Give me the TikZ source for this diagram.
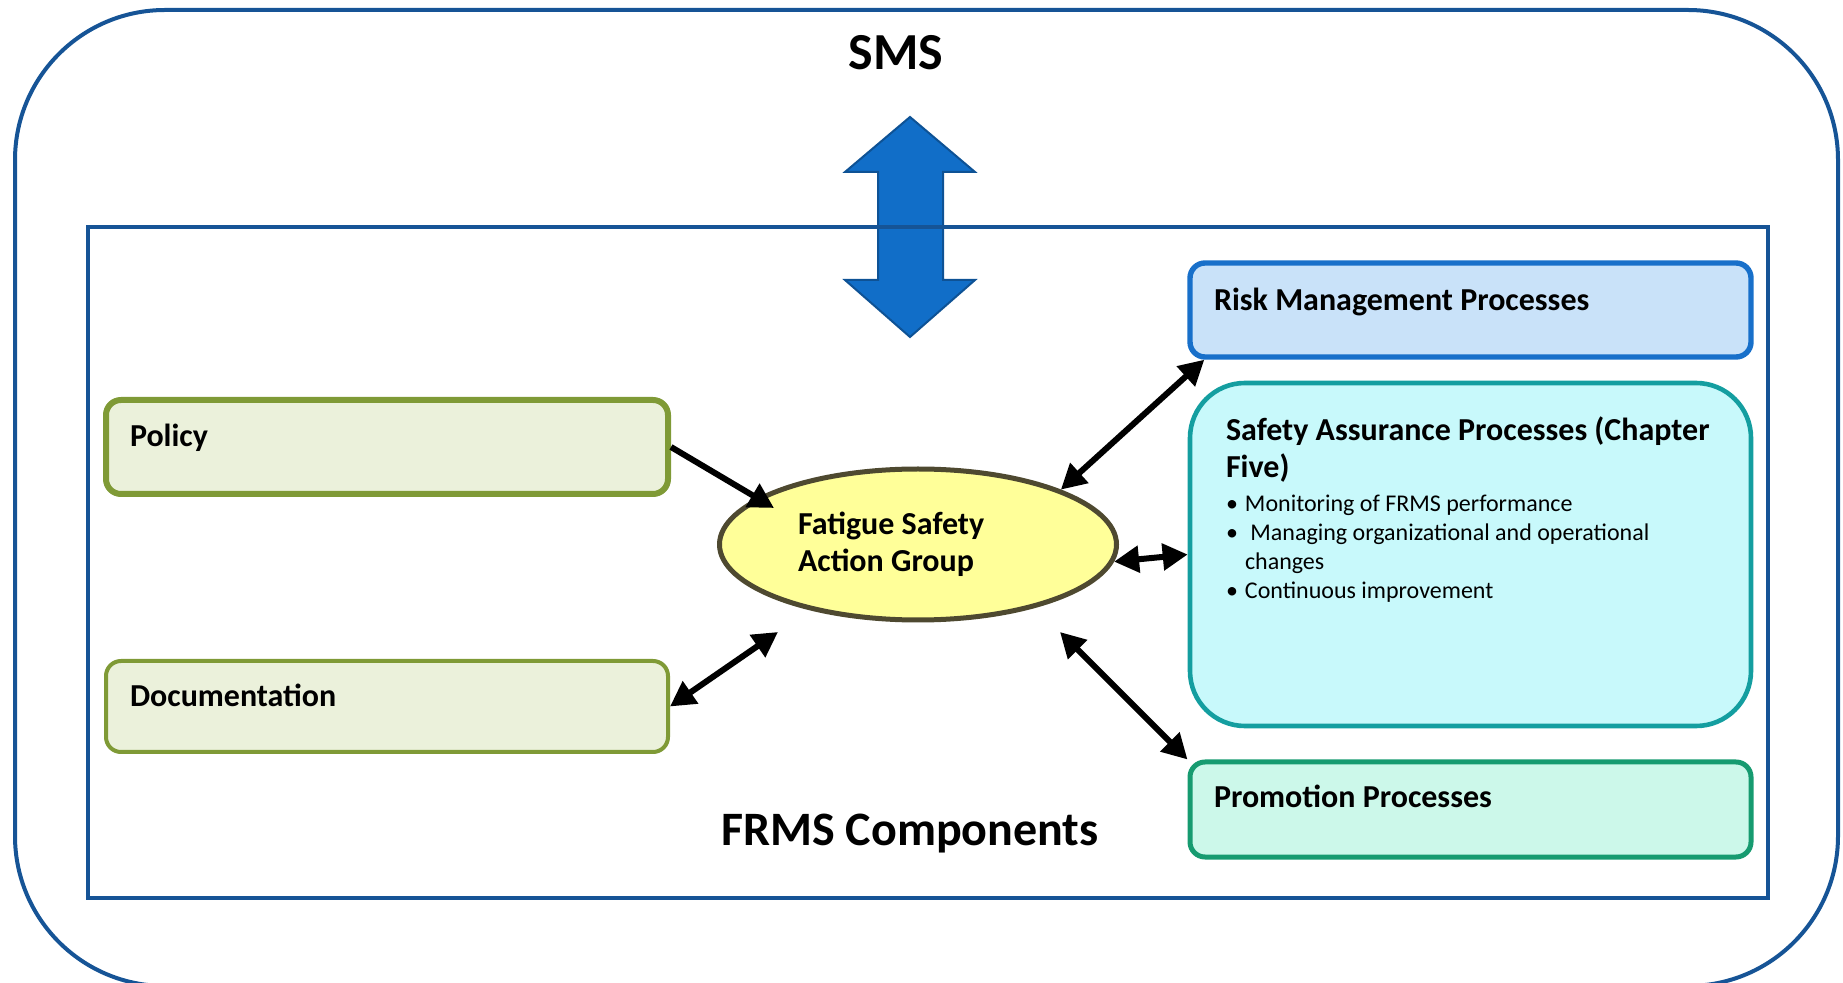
\documentclass[tikz,border=0pt]{standalone}
\usepackage{fontspec}
\setmainfont{Carlito}
\usepackage{tikz}
\usetikzlibrary{arrows.meta, shapes.geometric, calc}
\definecolor{framecol}{RGB}{22,84,150}
\definecolor{bigfill}{RGB}{17,110,200}
\definecolor{bigline}{RGB}{14,82,149}
\definecolor{riskline}{RGB}{24,112,202}
\definecolor{riskfill}{RGB}{201,226,249}
\definecolor{safeline}{RGB}{20,158,160}
\definecolor{safefill}{RGB}{200,249,251}
\definecolor{promline}{RGB}{22,155,112}
\definecolor{promfill}{RGB}{204,248,234}
\definecolor{polline}{RGB}{127,154,54}
\definecolor{polfill}{RGB}{235,241,219}
\definecolor{ellline}{RGB}{78,73,48}
\definecolor{ellfill}{RGB}{255,255,153}
\newcommand{\hd}{\fontsize{16pt}{18.5pt}\selectfont\bfseries}
\newcommand{\bd}{\fontsize{12pt}{14.5pt}\selectfont}
\newcommand{\bul}{\makebox[9.5pt][l]{\textbullet}}

\begin{document}
\begin{tikzpicture}[x=0.5pt, y=-0.5pt, line width=.8pt,
    box/.style={draw, rounded corners=7.5pt, inner xsep=12pt, inner ysep=0pt,
        text width=256.5pt, align=flush left, font=\hd},
    onearrow/.style={-{Triangle[length=12.5pt, width=13pt]}, line width=3pt},
    biarrow/.style={{Triangle[length=12.5pt, width=13pt]}-{Triangle[length=12.5pt, width=13pt]}, line width=3pt}]
            \useasboundingbox (0,0) rectangle (1843,983);
            % Rahmen.
            \draw[framecol, line width=2pt, rounded corners=75pt] (15,10) rectangle (1838,986);
            \filldraw[fill=bigfill, draw=bigline, line width=1pt]
                (910,117) -- (975,172) -- (943,172) -- (943,280) -- (975,280) -- (910,337)
                -- (845,280) -- (878,280) -- (878,172) -- (845,172) -- cycle;
            \draw[framecol, line width=1.6pt] (88,227) rectangle (1768,898);

            % Kaesten.
            \node[box, draw=riskline, fill=riskfill, line width=2.7pt, text height=23.7pt, text depth=23.3pt]
                (risk) at (1470.5,310) {Risk Management Processes};
            \node[box, rounded corners=27.5pt, draw=safeline, fill=safefill, line width=2.3pt,
                inner xsep=18pt, text width=244.5pt, text height=29pt, text depth=142.5pt, font=\bd]
                (safety) at (1470.5,554.5) {{\hd Safety Assurance Processes (Chapter\\Five)\par}
                \vspace{2.5pt}
                \bul Monitoring of FRMS performance\\
                \bul\ Managing organizational and operational\\
                \hspace*{9.5pt}changes\\
                \bul Continuous improvement\par};
            \node[box, draw=promline, fill=promfill, line width=2.5pt, text height=22.5pt, text depth=25pt]
                (promo) at (1470.5,809.5) {Promotion Processes};
            \node[box, draw=polline, fill=polfill, line width=3pt, text width=257pt, text height=23.1pt, text depth=23.9pt]
                (policy) at (387,447) {Policy};
            \node[box, draw=polline, fill=polfill, line width=2pt, text width=257pt, text height=22.6pt, text depth=22.9pt]
                (doc) at (387,706.5) {Documentation};
            \node[ellipse, draw=ellline, fill=ellfill, line width=2.5pt, minimum width=198.5pt, minimum height=75.5pt,
                inner sep=0pt, text width=120pt, align=flush left, font=\hd]
                (fsag) at (918,544.5) {Fatigue Safety\\Action Group};

            % Beschriftung.
            \node[font=\fontsize{26pt}{31pt}\selectfont\bfseries] (sms) at (896,53) {SMS};
            \node[font=\fontsize{24pt}{29pt}\selectfont\bfseries] (frms) at (910,834) {FRMS Components};

            % Pfeile.
            \coordinate (polTip) at (774,508);
            \coordinate (docTip) at (778,632);
            \coordinate (promTip) at (1060,632);
            \draw[onearrow] (policy.east) -- (polTip);
            \draw[biarrow] (doc.east) -- (docTip);
            \draw[biarrow] (fsag.21) -- ($(risk.south west)+(17,0)$);
            \draw[biarrow] (fsag.-5) -- (safety.west);
            \draw[biarrow] (promTip) -- (promo.north west);
        \end{tikzpicture}
\end{document}
